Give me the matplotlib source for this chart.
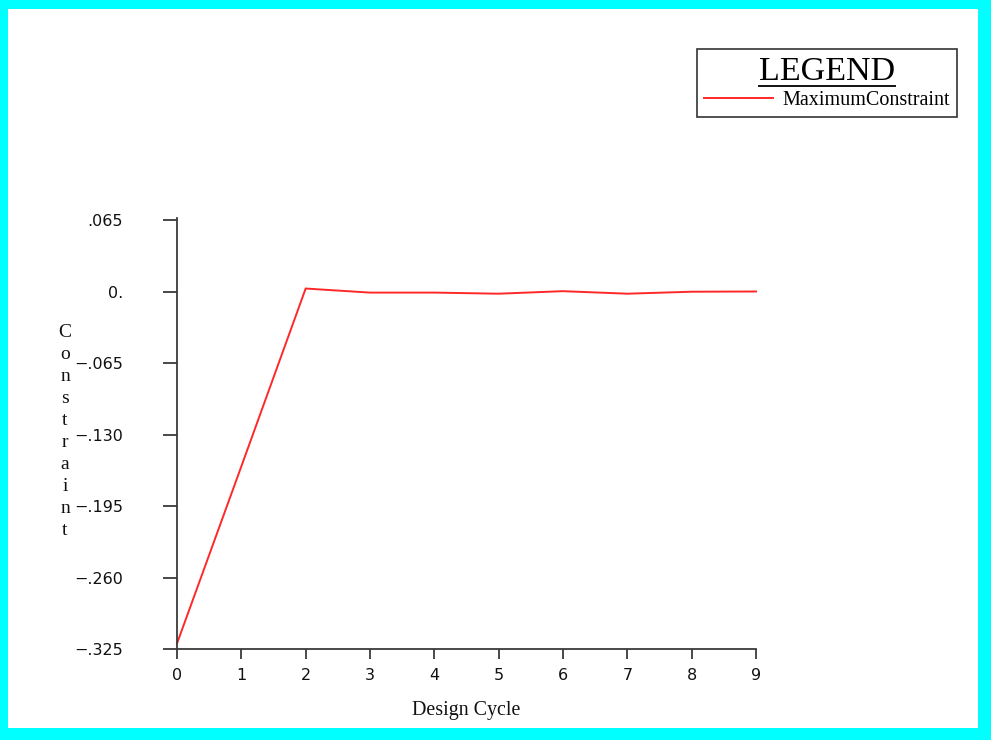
import matplotlib
matplotlib.use("Agg")
import matplotlib.pyplot as plt
from matplotlib.patches import Rectangle
from matplotlib.lines import Line2D
from matplotlib.ticker import FixedLocator, FixedFormatter

# ---- data ----
design_cycle = [0, 1, 2, 3, 4, 5, 6, 7, 8, 9]
max_constraint = [-0.320, -0.159, 0.0027, -0.0010, -0.0010, -0.0020, 0.0003, -0.0020, -0.0002, 0.0000]
series_name = "MaximumConstraint"
y_ticks = [0.065, 0.0, -0.065, -0.130, -0.195, -0.260, -0.325]
y_tick_labels = [".065", "0.", "\u2212.065", "\u2212.130", "\u2212.195", "\u2212.260", "\u2212.325"]
x_ticks = [0, 1, 2, 3, 4, 5, 6, 7, 8, 9]
x_label = "Design Cycle"
y_label = "Constraint"
legend_title = "LEGEND"

W, H = 991, 740

fig = plt.figure(figsize=(W / 100, H / 100), dpi=100)
fig.patch.set_facecolor('#00ffff')
# inner white panel
fig.add_artist(Rectangle((8 / W, 1 - 728 / H), (978 - 8) / W, (728 - 9) / H,
                         transform=fig.transFigure, facecolor='white',
                         edgecolor='none', zorder=0))

def fx(px):
    return px / W

def fy(py):
    return 1 - py / H

ax = fig.add_axes([fx(177), fy(649), fx(756) - fx(177), fy(220) - fy(649)])
ax.set_facecolor('none')
ax.plot(design_cycle, max_constraint, color='#ff2828', lw=1.4, label=series_name,
        solid_joinstyle='miter', clip_on=False)
ax.set_xlim(0, 9)
ax.set_ylim(-0.325, 0.065)

axis_col = '#3a3a3a'
for s in ['top', 'right']:
    ax.spines[s].set_visible(False)
for s in ['left', 'bottom']:
    ax.spines[s].set_color(axis_col)
    ax.spines[s].set_linewidth(1.3)
ax.spines['left'].set_bounds(-0.325, 0.067)

ax.yaxis.set_major_locator(FixedLocator(y_ticks))
ax.yaxis.set_major_formatter(FixedFormatter(y_tick_labels))
ax.xaxis.set_major_locator(FixedLocator(x_ticks))
ax.tick_params(axis='y', direction='out', length=10, width=1.3, color=axis_col,
               pad=29, labelsize=11.5, labelcolor='#111111')
ax.tick_params(axis='x', direction='out', length=7.5, width=1.3, color=axis_col,
               pad=6.5, labelsize=11.5, labelcolor='#111111')
for lab in ax.get_xticklabels() + ax.get_yticklabels():
    lab.set_family('DejaVu Sans')

serif = 'Liberation Serif'
fig.text(fx(466), fy(711), x_label, ha='center', va='center', family=serif,
         fontsize=14.4, color='#111111')

# vertical stacked y label
y0, step = 333, 21.9
for i, ch in enumerate(y_label):
    fig.text(fx(65), fy(y0 + i * step), ch, ha='center', va='center', family=serif,
             fontsize=14.0, color='#111111')

# legend
leg = ax.legend(loc='upper left', bbox_to_anchor=(fx(697), fy(49)),
                bbox_transform=fig.transFigure,
                title=legend_title, title_fontsize=24.5,
                prop={'family': serif, 'size': 14.5},
                frameon=True, fancybox=False, edgecolor='#333333',
                handlelength=3.4, handletextpad=0.5, borderpad=0.35,
                borderaxespad=0, labelspacing=0.2)
leg.get_title().set_family(serif)
leg.get_frame().set_linewidth(1.2)
leg.get_frame().set_facecolor('white')
leg.get_frame().set_alpha(1)

# underline the legend title
fig.canvas.draw()
bb = leg.get_title().get_window_extent(fig.canvas.get_renderer())
uy = bb.y0 + 1.0
fig.add_artist(Line2D([bb.x0 / W, bb.x1 / W], [uy / H, uy / H],
                      transform=fig.transFigure, color='#111111', lw=1.4))

fig.savefig('out.png', dpi=100, facecolor=fig.get_facecolor())
